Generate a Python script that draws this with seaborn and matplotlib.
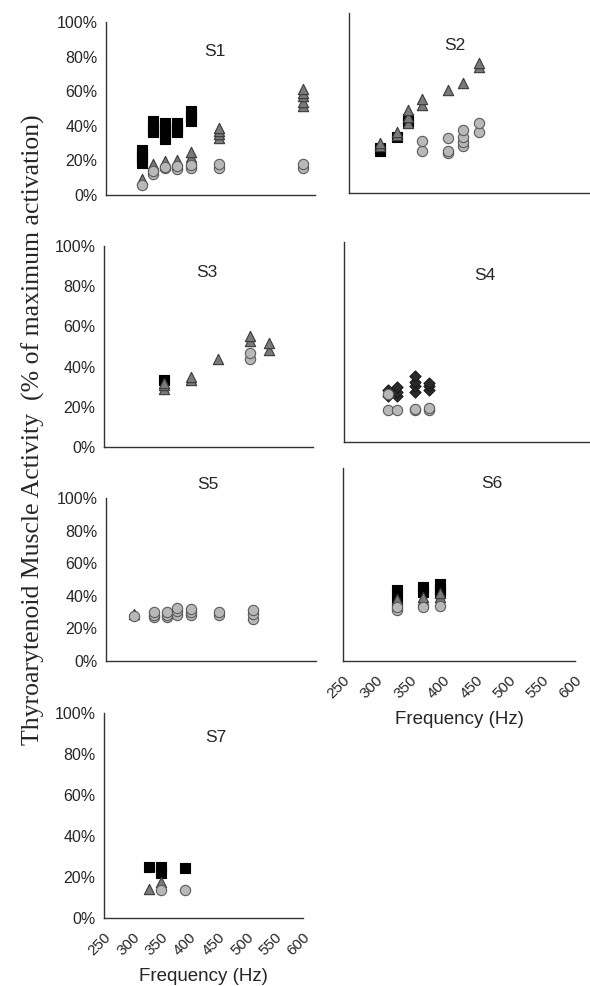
import pandas as pd
import seaborn as sns
import matplotlib.pyplot as plt
from matplotlib.ticker import PercentFormatter

# Data: frequency (Hz), activity (%), marker kind
# kinds: sq = black square, dm = dark diamond, tr = grey triangle, ci = light circle
s1_freq = [310, 310, 310, 310, 329, 329, 329, 349, 349, 349, 349, 369, 369, 369, 392, 392, 392,
           310, 329, 329, 349, 349, 369, 369, 392, 392, 392, 439, 439, 439, 439, 580, 580, 580, 580, 580,
           310, 329, 329, 349, 349, 369, 369, 392, 392, 439, 439, 580, 580]
s1_val = [18.5, 21, 23.5, 26, 36.5, 39, 42.5, 32.5, 35, 38, 41.5, 36.5, 39, 41.5, 42.5, 45, 48.5,
          9, 16.5, 18, 17.5, 19.5, 18.5, 20.5, 20, 22, 25, 33, 35, 37, 38.5, 51.5, 54, 57, 59, 61.5,
          5.8, 12, 14, 15.4, 16.4, 15, 16.5, 15.4, 17.3, 15.4, 17.7, 15.4, 17.7]
s1_kind = ["sq"] * 17 + ["tr"] * 19 + ["ci"] * 13

s2_freq = [295, 295, 320, 336, 336,
           295, 295, 320, 320, 336, 336, 336, 356, 356, 394, 416, 440, 440,
           356, 356, 394, 394, 394, 416, 416, 416, 416, 440, 440]
s2_val = [23.5, 25, 31, 39.5, 41,
          26, 28, 32, 34, 39, 42, 46, 49, 52, 57, 61, 70, 72,
          23.5, 29, 22.5, 23.5, 30.5, 26, 28.5, 31, 35, 34, 39]
s2_kind = ["sq"] * 5 + ["tr"] * 13 + ["ci"] * 11

s3_freq = [350,
           350, 350, 350, 396, 396, 441, 495, 495, 526, 526,
           495, 495]
s3_val = [33.5,
          29, 31, 32, 33.5, 35, 44, 52.5, 55, 48.5, 51.5,
          44, 47]
s3_kind = ["sq"] + ["tr"] * 10 + ["ci"] * 2

s4_freq = [313, 313, 325, 325, 325, 351, 351, 351, 351, 371, 371, 371,
           313, 313, 325, 351, 351, 371, 371]
s4_val = [23, 26, 23, 25, 27.5, 25, 28, 30, 33, 26, 28, 29.5,
          16, 24, 16, 16, 16.5, 16, 17]
s4_kind = ["dm"] * 12 + ["ci"] * 7

s5_freq = [296,
           296, 330, 330, 330, 351, 351, 351, 369, 369, 369, 392, 392, 392, 439, 439, 495, 495, 495]
s5_val = [29,
          27.5, 27, 28.5, 30, 27, 28.5, 30, 28, 30.5, 32.5, 28, 30, 32, 28.5, 30, 26, 29, 31]
s5_kind = ["tr"] + ["ci"] * 18

s6_freq = [332, 332, 371, 371, 396, 396, 396,
           332, 332, 371, 371, 396, 396,
           332, 332, 371, 396]
s6_val = [31.5, 37, 36, 38.5, 35, 37.5, 40,
          30, 32, 31.5, 33, 33, 35,
          26.5, 28, 28, 28.5]
s6_kind = ["sq"] * 7 + ["tr"] * 6 + ["ci"] * 4

s7_freq = [329, 351, 351, 392, 329, 351, 351, 392]
s7_val = [25, 22, 25, 24.5, 14, 17.5, 13.5, 13.8]
s7_kind = ["sq"] * 4 + ["tr"] * 2 + ["ci"] * 2

panel_names = ["S1", "S2", "S3", "S4", "S5", "S6", "S7"]
freq_ticks = [250, 300, 350, 400, 450, 500, 550, 600]
pct_ticks = [0, 20, 40, 60, 80, 100]

panels = {
    "S1": (s1_freq, s1_val, s1_kind), "S2": (s2_freq, s2_val, s2_kind),
    "S3": (s3_freq, s3_val, s3_kind), "S4": (s4_freq, s4_val, s4_kind),
    "S5": (s5_freq, s5_val, s5_kind), "S6": (s6_freq, s6_val, s6_kind),
    "S7": (s7_freq, s7_val, s7_kind),
}

# marker styles per kind
styles = {
    "sq": dict(marker="s", color="#000000", edgecolor="#000000", s=42),
    "dm": dict(marker="D", color="#2b2b2b", edgecolor="#1a1a1a", s=32),
    "tr": dict(marker="^", color="#7a7a7a", edgecolor="#3a3a3a", s=55),
    "ci": dict(marker="o", color="#b8b8b8", edgecolor="#5a5a5a", s=55),
}

# axes rectangles in pixels: left, top, right, bottom
rects = {
    "S1": (106, 22, 315, 195), "S2": (349, 13, 589, 193),
    "S3": (104, 246, 313, 447), "S4": (344, 242, 589, 442),
    "S5": (106, 498, 316, 661), "S6": (343, 468, 575, 661),
    "S7": (104, 713, 303, 918),
}
title_pos = {"S1": (0.52, 0.83), "S2": (0.44, 0.82), "S3": (0.49, 0.87), "S4": (0.575, 0.835),
             "S5": (0.486, 1.08), "S6": (0.64, 0.92), "S7": (0.56, 0.88)}

sns.set_style("white")
plt.rcParams["font.family"] = ["Liberation Sans", "DejaVu Sans"]

W, H = 590, 986
fig = plt.figure(figsize=(W / 100, H / 100), dpi=100)

for name in panel_names:
    l, t, r, b = rects[name]
    ax = fig.add_axes([l / W, 1 - b / H, (r - l) / W, (b - t) / H])
    f, v, k = panels[name]
    df = pd.DataFrame({"freq": f, "val": v, "kind": k})
    for kind in ["sq", "dm", "tr", "ci"]:
        sub = df[df["kind"] == kind]
        if len(sub) == 0:
            continue
        st = styles[kind]
        sns.scatterplot(data=sub, x="freq", y="val", ax=ax, marker=st["marker"], color=st["color"],
                        edgecolor=st["edgecolor"], s=st["s"], linewidth=0.8, zorder=3, clip_on=False)
    ax.set_xlim(250, 600)
    ax.set_ylim(0, 100)
    ax.set_xticks(freq_ticks)
    ax.set_yticks(pct_ticks)
    ax.set_xlabel("")
    ax.set_ylabel("")
    for side in ["top", "right"]:
        ax.spines[side].set_visible(False)
    for side in ["left", "bottom"]:
        ax.spines[side].set_color("#333333")
        ax.spines[side].set_linewidth(1.0)
    ax.tick_params(direction="out", length=4, width=1.0, color="#333333", labelsize=11.5, pad=2)
    if name in ["S1", "S3", "S5", "S7"]:
        ax.yaxis.set_major_formatter(PercentFormatter(decimals=0))
    else:
        ax.set_yticklabels([])
    if name in ["S6", "S7"]:
        ax.set_xticklabels([str(x) for x in freq_ticks], rotation=45, ha="right",
                           rotation_mode="anchor", fontsize=11)
        ax.tick_params(axis="x", pad=5)
        ax.set_xlabel("Frequency (Hz)", fontsize=13.5, labelpad=7)
    else:
        ax.set_xticklabels([])
    tx, ty = title_pos[name]
    ax.text(tx, ty, name, transform=ax.transAxes, ha="center", va="center", fontsize=12.5)

fig.text(0.056, 0.564, "Thyroarytenoid Muscle Activity  (% of maximum activation)", rotation=90,
         ha="center", va="center", fontsize=18.5, family=["Liberation Serif", "DejaVu Serif"])

fig.savefig("out.png", dpi=100)
